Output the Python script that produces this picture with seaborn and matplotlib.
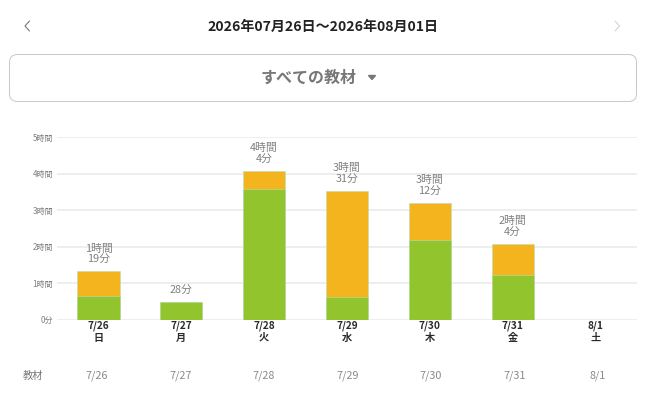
import matplotlib.pyplot as plt
import pandas as pd
import seaborn as sns
from matplotlib.patches import FancyBboxPatch, Polygon

# values in minutes
dates = ["7/26", "7/27", "7/28", "7/29", "7/30", "7/31", "8/1"]
weekdays = ["日", "月", "火", "水", "木", "金", "土"]
total_minutes = [79, 28, 244, 211, 192, 124, 0]
green_minutes = [39, 28, 214, 37, 131, 73, 0]
total_labels = ["1時間\n19分", "28分", "4時間\n4分", "3時間\n31分", "3時間\n12分", "2時間\n4分", ""]
y_ticks = [0, 60, 120, 180, 240, 300]
y_labels = ["0分", "1時間", "2時間", "3時間", "4時間", "5時間"]

GREEN = "#92c52d"
ORANGE = "#f4b41e"
W, H = 649, 400

sns.set_theme(style="whitegrid")
plt.rcParams["font.family"] = ["Noto Sans CJK JP", "DejaVu Sans"]

df = pd.DataFrame({"date": dates, "total": total_minutes, "green": green_minutes})

fig = plt.figure(figsize=(W / 100, H / 100), dpi=100, facecolor="white")

# chart area
ax = fig.add_axes([57 / W, 1 - 319.5 / H, 580 / W, 182.5 / H])
sns.barplot(data=df, x="date", y="total", color=ORANGE, saturation=1, width=0.51,
            edgecolor="#b5e0bb", linewidth=0.4, ax=ax)
sns.barplot(data=df, x="date", y="green", color=GREEN, saturation=1, width=0.51,
            edgecolor="#b5e0bb", linewidth=0.4, ax=ax)
ax.set_xlim(-0.5, 6.5)
ax.set_ylim(0, 300)
ax.set_xlabel("")
ax.set_ylabel("")
ax.set_yticks(y_ticks, y_labels)
ax.tick_params(axis="y", labelsize=5.8, labelcolor="#808080", length=0, pad=3)
ax.grid(axis="x", visible=False)
ax.grid(axis="y", color="#ebebeb", linewidth=1.2)
ax.set_axisbelow(True)
sns.despine(ax=ax, left=True, bottom=True, top=True, right=True)
ax.set_xticks(range(len(dates)), [""] * len(dates))
ax.tick_params(axis="x", length=0)

for i, (total, label) in enumerate(zip(total_minutes, total_labels)):
    if label:
        ax.annotate(label, (i, total), xytext=(0, 4.5), textcoords="offset points",
                    ha="center", va="bottom", fontsize=7.8, color="#808080", linespacing=1.18)

# date / weekday rows and the 教材 row under the axis
trans = ax.get_xaxis_transform()
for i, (d, wd) in enumerate(zip(dates, weekdays)):
    ax.annotate(d, (i, 0), xycoords=trans, xytext=(0, -6 / 1.39), textcoords="offset points",
                ha="center", va="center", fontsize=7.3, fontweight="bold", color="#2a2a2a")
    ax.annotate(wd, (i, 0), xycoords=trans, xytext=(0, -18.5 / 1.39), textcoords="offset points",
                ha="center", va="center", fontsize=7.3, fontweight="bold", color="#2a2a2a")
    ax.annotate(d, (i, 0), xycoords=trans, xytext=((i - 2.5) * 0.45, -56.5 / 1.39),
                textcoords="offset points", ha="center", va="center", fontsize=7.8, color="#8a8a8a")

# header drawn on a full figure overlay in pixel coordinates
top = fig.add_axes([0, 0, 1, 1], zorder=-1)
top.set_xlim(0, W)
top.set_ylim(H, 0)
top.axis("off")

top.text(323, 26.5, "2026年07月26日〜2026年08月01日", ha="center", va="center",
         fontsize=10.1, fontweight="bold", color="#222222")
top.plot([29.5, 25, 29.5], [21, 26, 31], color="#777777", lw=0.8)
top.plot([615, 619.5, 615], [21, 26, 31], color="#d5d5d5", lw=0.8)

top.add_patch(FancyBboxPatch((9.5, 54.5), 627, 47, boxstyle="round,pad=0,rounding_size=8",
                             facecolor="white", edgecolor="#c8c8c8", linewidth=0.7))
top.text(309, 77.5, "すべての教材", ha="center", va="center", fontsize=11.5,
         fontweight="bold", color="#777777")
top.add_patch(Polygon([[368.5, 75.5], [375.5, 75.5], [372, 79.5]], closed=True, color="#777777"))

top.text(33, 376, "教材", ha="center", va="center", fontsize=7.4, color="#777777")

fig.savefig("out.png", dpi=100)
